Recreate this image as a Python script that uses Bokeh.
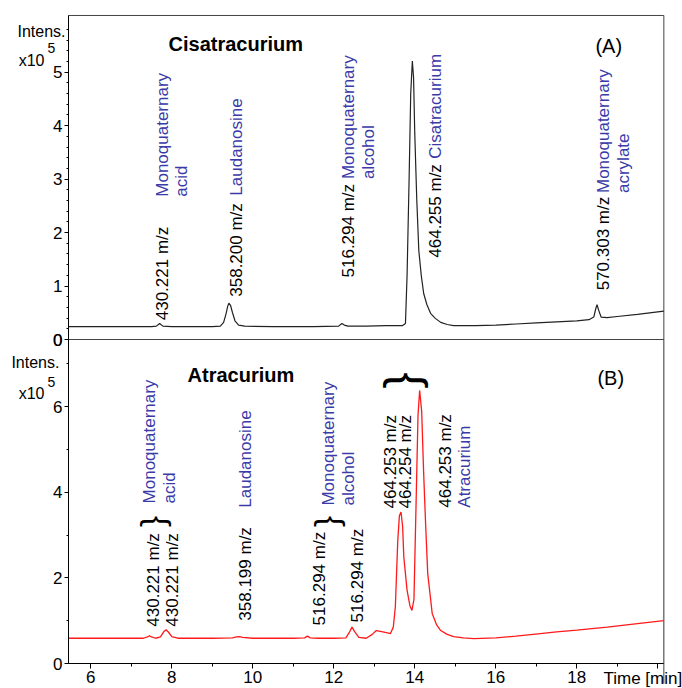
from math import pi
from bokeh.plotting import figure
from bokeh.models import (Range1d, FixedTicker, CustomJSTickFormatter, LinearAxis,
                          ColumnDataSource, Label)
from bokeh.core.properties import value
from bokeh.embed import file_html
from bokeh.resources import INLINE

FONT = "Liberation Sans"
BLUE = "#3a3aa8"

# ---------------- data (intensity in x10^5, time in min) ----------------
cis_time = [5.45, 6.0, 6.5, 7.0, 7.5, 7.62, 7.70, 7.78, 8.0, 8.5, 9.0, 9.2, 9.28, 9.34, 9.38,
            9.41, 9.45, 9.50, 9.56, 9.65, 9.8, 10.5, 11.0, 11.5, 12.12, 12.20, 12.26, 12.35,
            12.8, 13.3, 13.7, 13.77, 13.81, 13.86, 13.90, 13.94, 13.97, 14.00, 14.05, 14.10,
            14.16, 14.22, 14.30, 14.39, 14.50, 14.64, 14.80, 14.96, 15.5, 16.0, 16.5, 17.0,
            17.5, 18.0, 18.3, 18.42, 18.47, 18.50, 18.54, 18.60, 18.75, 19.0, 19.5, 20.15]
cis_int = [0.24, 0.24, 0.24, 0.24, 0.24, 0.25, 0.30, 0.25, 0.24, 0.24, 0.24, 0.25, 0.32, 0.48,
           0.62, 0.68, 0.64, 0.50, 0.35, 0.27, 0.25, 0.24, 0.24, 0.24, 0.25, 0.30, 0.27, 0.25,
           0.25, 0.26, 0.26, 0.30, 1.2, 3.0, 4.6, 5.21, 4.9, 3.85, 2.6, 1.66, 1.2, 0.86, 0.65,
           0.49, 0.40, 0.32, 0.28, 0.26, 0.26, 0.27, 0.29, 0.31, 0.33, 0.35, 0.37, 0.42, 0.58,
           0.65, 0.55, 0.42, 0.41, 0.43, 0.47, 0.53]

atr_time = [5.45, 6.0, 6.5, 7.0, 7.3, 7.40, 7.45, 7.50, 7.60, 7.72, 7.80, 7.86, 7.92, 8.00, 8.15,
            8.5, 9.0, 9.5, 9.6, 9.67, 9.75, 10.0, 10.5, 11.0, 11.28, 11.35, 11.42, 11.6, 12.0,
            12.3, 12.38, 12.45, 12.52, 12.62, 12.8, 12.95, 13.05, 13.15, 13.3, 13.40, 13.47,
            13.52, 13.58, 13.62, 13.66, 13.70, 13.73, 13.81, 13.88, 13.93, 13.98, 14.03, 14.08,
            14.12, 14.17, 14.22, 14.27, 14.32, 14.43, 14.54, 14.64, 14.80, 14.96, 15.2, 15.46,
            16.0, 16.5, 17.1, 17.5, 18.0, 18.75, 19.5, 20.15]
atr_int = [0.59, 0.59, 0.59, 0.59, 0.59, 0.62, 0.65, 0.62, 0.59, 0.62, 0.74, 0.79, 0.73, 0.63,
           0.59, 0.59, 0.59, 0.60, 0.62, 0.63, 0.61, 0.59, 0.59, 0.59, 0.60, 0.64, 0.60, 0.59,
           0.59, 0.60, 0.72, 0.85, 0.74, 0.61, 0.59, 0.68, 0.77, 0.75, 0.72, 0.70, 0.85, 1.32,
           2.87, 3.45, 3.54, 3.2, 2.48, 1.71, 1.35, 1.24, 1.5, 3.65, 5.8, 6.38, 5.9, 4.43, 3.2,
           2.1, 1.17, 0.9, 0.77, 0.68, 0.63, 0.60, 0.58, 0.60, 0.64, 0.70, 0.74, 0.78, 0.85,
           0.93, 1.0]

x_major = [6, 8, 10, 12, 14, 16, 18, 20]
x_minor = [7, 9, 11, 13, 15, 17, 19]
top_y_major = [0, 1, 2, 3, 4, 5]
bot_y_major = [0, 2, 4, 6]
bot_y_minor = [1, 3, 5, 7]

# peak annotations: text, x (baseline position), y (start of rotated text), kind
cis_ann_text = ["430.221 m/z", "Monoquaternary", "acid", "358.200 m/z", "Laudanosine",
                "516.294 m/z", "Monoquaternary", "alcohol", "464.255 m/z", "Cisatracurium",
                "570.303 m/z", "Monoquaternary", "acrylate"]
cis_ann_x = [7.78, 7.76, 8.25, 9.60, 9.60, 12.36, 12.36, 12.85, 14.52, 14.52, 18.67, 18.67, 19.16]
cis_ann_y = [0.36, 2.67, 2.67, 0.80, 2.69, 1.16, 3.00, 3.00, 1.53, 3.38, 0.92, 2.74, 2.74]
cis_ann_kind = ["mz", "name", "name", "mz", "name", "mz", "name", "name", "mz", "name",
                "mz", "name", "name"]

atr_ann_text = ["430.221 m/z", "430.221 m/z", "Monoquaternary", "acid", "358.199 m/z",
                "Laudanosine", "516.294 m/z", "Monoquaternary", "alcohol", "516.294 m/z",
                "464.253 m/z", "464.254 m/z", "464.253 m/z", "Atracurium"]
atr_ann_x = [7.56, 8.03, 7.46, 7.95, 9.83, 9.82, 11.64, 11.88, 12.37, 12.59, 13.40, 13.78,
             14.77, 15.22]
atr_ann_y = [0.86, 0.86, 3.74, 3.74, 1.00, 3.64, 0.89, 3.69, 3.69, 0.96, 3.62, 3.62, 3.64, 3.64]
atr_ann_kind = ["mz", "mz", "name", "name", "mz", "name", "mz", "name", "name", "mz",
                "mz", "mz", "mz", "name"]

# ---------------- layout geometry (pixels) ----------------
W, H = 682, 688
X_LEFT, X_RIGHT = 5.45, 20.15        # time axis limits
AX_LEFT_PX, PX_PER_MIN = 68, 40.5
B = 7.57                             # lower panel top (x10^5)
T = 6.06                             # upper panel top (x10^5)
BOT_AXIS_PX, BOT_PX_PER = 663, 42.8
MID_PX, TOP_PX_PER = 339, 53.47

x_range = Range1d(X_LEFT - AX_LEFT_PX / PX_PER_MIN, X_LEFT + (W - AX_LEFT_PX) / PX_PER_MIN)
y_range = Range1d(-(H - BOT_AXIS_PX) / BOT_PX_PER, BOT_AXIS_PX / BOT_PX_PER)
top_range = Range1d(-(H - MID_PX) / TOP_PX_PER, MID_PX / TOP_PX_PER)

p = figure(width=W, height=H, x_range=x_range, y_range=y_range,
           x_axis_location=None, y_axis_location=None,
           output_backend="svg", toolbar_location=None,
           min_border_left=0, min_border_right=0, min_border_top=0, min_border_bottom=0)
p.extra_y_ranges = {"top": top_range}
p.grid.visible = False
p.outline_line_color = None


def style_axis(ax, tick_out, minor_out):
    ax.axis_line_color = "black"
    ax.major_tick_line_color = "black"
    ax.minor_tick_line_color = "black"
    ax.major_tick_in = 0
    ax.minor_tick_in = 0
    ax.major_tick_out = tick_out
    ax.minor_tick_out = minor_out
    ax.major_label_text_font = FONT
    ax.major_label_text_font_size = "17px"
    ax.major_label_text_color = "black"
    ax.major_label_standoff = 2


xa = LinearAxis(fixed_location=0, bounds=(X_LEFT, X_RIGHT),
                ticker=FixedTicker(ticks=x_major, minor_ticks=x_minor),
                formatter=CustomJSTickFormatter(code="return tick > 19.5 ? '' : tick.toFixed(0);"))
style_axis(xa, 5, 3)
p.add_layout(xa, "below")

ya_bot = LinearAxis(fixed_location=X_LEFT, bounds=(0, B),
                    ticker=FixedTicker(ticks=bot_y_major, minor_ticks=bot_y_minor))
style_axis(ya_bot, 4, 2)
p.add_layout(ya_bot, "left")

ya_top = LinearAxis(y_range_name="top", fixed_location=X_LEFT, bounds=(0, T),
                    ticker=FixedTicker(ticks=top_y_major,
                                       minor_ticks=[k / 5 for k in range(1, 30) if k % 5]))
style_axis(ya_top, 4, 2)
p.add_layout(ya_top, "left")

# panel frames
p.quad(left=[X_LEFT], right=[X_RIGHT], bottom=[0], top=[B], fill_color=None,
       line_color="#333333", line_width=1)
p.quad(left=[X_LEFT], right=[X_RIGHT], bottom=[0], top=[T], fill_color=None,
       line_color="#444444", line_width=1, y_range_name="top")
p.segment(x0=[X_RIGHT], y0=[-0.47], x1=[X_RIGHT], y1=[0], line_color="#444444", line_width=1)

# traces
p.line(cis_time, cis_int, y_range_name="top", line_color="#222222", line_width=1.2)
p.line(atr_time, atr_int, line_color="#ff1a1a", line_width=1.3)


# rotated peak annotations
def colors(kinds):
    return ["black" if k == "mz" else BLUE for k in kinds]


src_cis = ColumnDataSource(dict(x=cis_ann_x, y=cis_ann_y, text=cis_ann_text, c=colors(cis_ann_kind)))
src_atr = ColumnDataSource(dict(x=atr_ann_x, y=atr_ann_y, text=atr_ann_text, c=colors(atr_ann_kind)))
common = dict(x="x", y="y", text="text", text_color="c", angle=pi / 2, text_align="left",
              text_baseline="alphabetic", text_font=value(FONT), text_font_size="17px")
p.text(source=src_cis, y_range_name="top", **common)
p.text(source=src_atr, **common)

# braces
p.text(x=[7.66, 11.98], y=[3.32, 3.32], text=["{", "{"], angle=-pi / 2, text_align="center",
       text_baseline="middle", text_font=value(FONT), text_font_size="33px", text_color="black")
p.text(x=[13.87], y=[6.61], text=["{"], angle=-pi / 2, text_align="center",
       text_baseline="middle", text_font=value(FONT), text_font_size="48px", text_color="black")


# titles and captions
def txt(x, y, s, size, bold=False, top=False, baseline="alphabetic", align="left"):
    kw = dict(y_range_name="top") if top else {}
    p.text(x=[x], y=[y], text=[s], text_font=value(FONT), text_font_size=size,
           text_font_style="bold" if bold else "normal", text_baseline=baseline,
           text_align=align, text_color="black", **kw)


txt(7.92, 5.53, "Cisatracurium", "20px", bold=True, top=True)
txt(18.46, 5.49, "(A)", "20px", top=True)
txt(8.39, 6.73, "Atracurium", "20px", bold=True)
txt(18.51, 6.68, "(B)", "20px")

txt(4.19, 5.76, "Intens.", "16px", top=True)
txt(4.22, 5.21, "x10", "16px", top=True)
txt(4.93, 5.46, "5", "14px", top=True)
txt(4.04, 7.03, "Intens.", "16px")
txt(4.22, 6.31, "x10", "16px")
txt(4.93, 6.57, "5", "14px")
txt(18.66, -0.14, "Time [min]", "17px", baseline="top")

# upper panel's "0" on the divider, beside the axis (annotation layer)
p.add_layout(Label(x=5.30, y=B, text="0", text_font=FONT, text_font_size="17px",
                   text_align="right", text_baseline="middle", text_color="black"))

open("out.html", "w").write(file_html(p, INLINE))
